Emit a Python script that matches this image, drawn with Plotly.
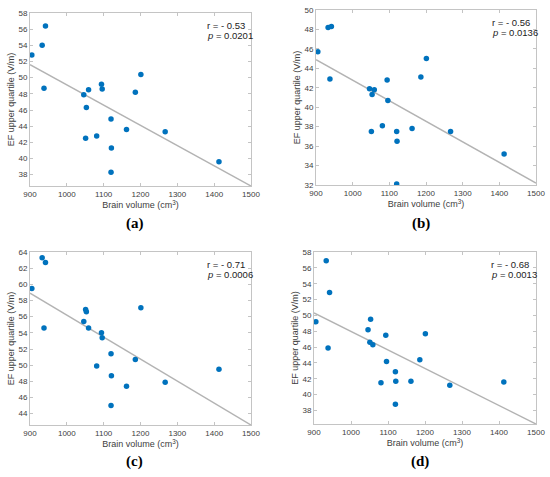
import plotly.graph_objects as go

# brain volume (cm^3), same subjects in every panel
brain_vol = [905, 933, 942, 938, 1046, 1051, 1053, 1059, 1081, 1094,
             1096, 1120, 1121, 1120, 1162, 1186, 1201, 1267, 1413]

# EF upper quartile (V/m) per panel
ef_a = [52.8, 54.0, 56.4, 48.7, 47.9, 42.5, 46.3, 48.5, 42.8, 49.2,
        48.6, 44.9, 41.3, 38.3, 43.6, 48.2, 50.4, 43.3, 39.6]
ef_b = [45.7, 48.2, 48.3, 42.9, 41.9, 37.5, 41.3, 41.8, 38.1, 42.8,
        40.7, 37.5, 36.5, 32.1, 37.8, 43.1, 45.0, 37.5, 35.2]
ef_c = [59.5, 63.3, 62.7, 54.6, 55.4, 56.9, 56.6, 54.6, 49.9, 54.0,
        53.4, 51.4, 48.7, 45.0, 47.4, 50.7, 57.1, 47.9, 49.5]
ef_d = [49.2, 56.9, 52.9, 45.9, 48.2, 46.6, 49.5, 46.3, 41.5, 47.5,
        44.2, 42.9, 41.7, 38.8, 41.7, 44.4, 47.7, 41.2, 41.6]

# regression line read at x = 900 and x = 1500
fit_x = [900, 1500]
fit_a = [51.6, 36.6]
fit_b = [44.9, 32.2]
fit_c = [58.9, 42.6]
fit_d = [50.3, 36.3]

r_vals = ['- 0.53', '- 0.56', '- 0.71', '- 0.68']
p_vals = ['0.0201', '0.0136', '0.0006', '0.0013']
panel_labels = ['(a)', '(b)', '(c)', '(d)']
y_ranges = [[36.6, 58], [32, 50], [42.6, 64], [36.3, 58]]
y_ticks = [list(range(38, 59, 2)), list(range(32, 51, 2)),
           list(range(44, 65, 2)), list(range(38, 59, 2))]

W, H = 550, 477
# axes boxes in pixels: left, right, top, bottom
boxes = [(30, 251, 13, 186), (316, 536, 10, 185),
         (30, 251, 252, 425), (314, 536, 252, 424)]
label_y = [223, 223, 461, 461]

fig = go.Figure()
series = [ef_a, ef_b, ef_c, ef_d]
fits = [fit_a, fit_b, fit_c, fit_d]

axis_style = dict(showline=True, linecolor='#c4c4c4', linewidth=1, mirror='allticks',
                  ticks='inside', ticklen=3, tickcolor='#c4c4c4', showgrid=False,
                  zeroline=False, automargin=False,
                  tickfont=dict(family='Liberation Sans', size=8, color='#404040'))

for i in range(4):
    n = '' if i == 0 else str(i + 1)
    l, r, t, b = boxes[i]
    fig.add_trace(go.Scatter(x=fit_x, y=fits[i], mode='lines',
                             line=dict(color='#b3b3b3', width=1.5),
                             xaxis='x' + n, yaxis='y' + n, showlegend=False))
    fig.add_trace(go.Scatter(x=brain_vol, y=series[i], mode='markers',
                             marker=dict(color='#0072BD', size=5.5),
                             xaxis='x' + n, yaxis='y' + n, showlegend=False))
    fig.layout['xaxis' + n] = dict(
        axis_style, domain=[l / W, r / W], anchor='y' + n, range=[900, 1500],
        tickvals=list(range(900, 1501, 100)),
        title=dict(text='Brain volume (cm<sup>3</sup>)', standoff=4,
                   font=dict(family='Liberation Sans', size=9, color='#404040')))
    fig.layout['yaxis' + n] = dict(
        axis_style, domain=[1 - b / H, 1 - t / H], anchor='x' + n, range=y_ranges[i],
        tickvals=y_ticks[i],
        title=dict(text='EF upper quartile (V/m)', standoff=2,
                   font=dict(family='Liberation Sans', size=9, color='#404040')))
    fig.add_annotation(xref='x' + n + ' domain', yref='y' + n + ' domain', x=0.79, y=0.93,
                       text='r = ' + r_vals[i], showarrow=False, xanchor='left', yanchor='middle',
                       font=dict(family='Liberation Sans', size=9.5, color='#222'))
    fig.add_annotation(xref='x' + n + ' domain', yref='y' + n + ' domain', x=0.79, y=0.872,
                       text='<i>p</i> = ' + p_vals[i], showarrow=False, xanchor='left', yanchor='middle',
                       font=dict(family='Liberation Sans', size=9.5, color='#222'))
    fig.add_annotation(xref='paper', yref='paper', x=(l + r) / 2 / W - 0.01, y=1 - label_y[i] / H,
                       text='<b>' + panel_labels[i] + '</b>', showarrow=False,
                       xanchor='center', yanchor='middle',
                       font=dict(family='Liberation Serif', size=15, color='black'))

fig.update_layout(width=W, height=H, margin=dict(l=0, r=0, t=0, b=0),
                  plot_bgcolor='white', paper_bgcolor='white')

# drop the browser's default body margin so the figure fills the window
fig.write_html("out.html", config={'displayModeBar': False},
               post_script="document.body.style.margin='0';")
